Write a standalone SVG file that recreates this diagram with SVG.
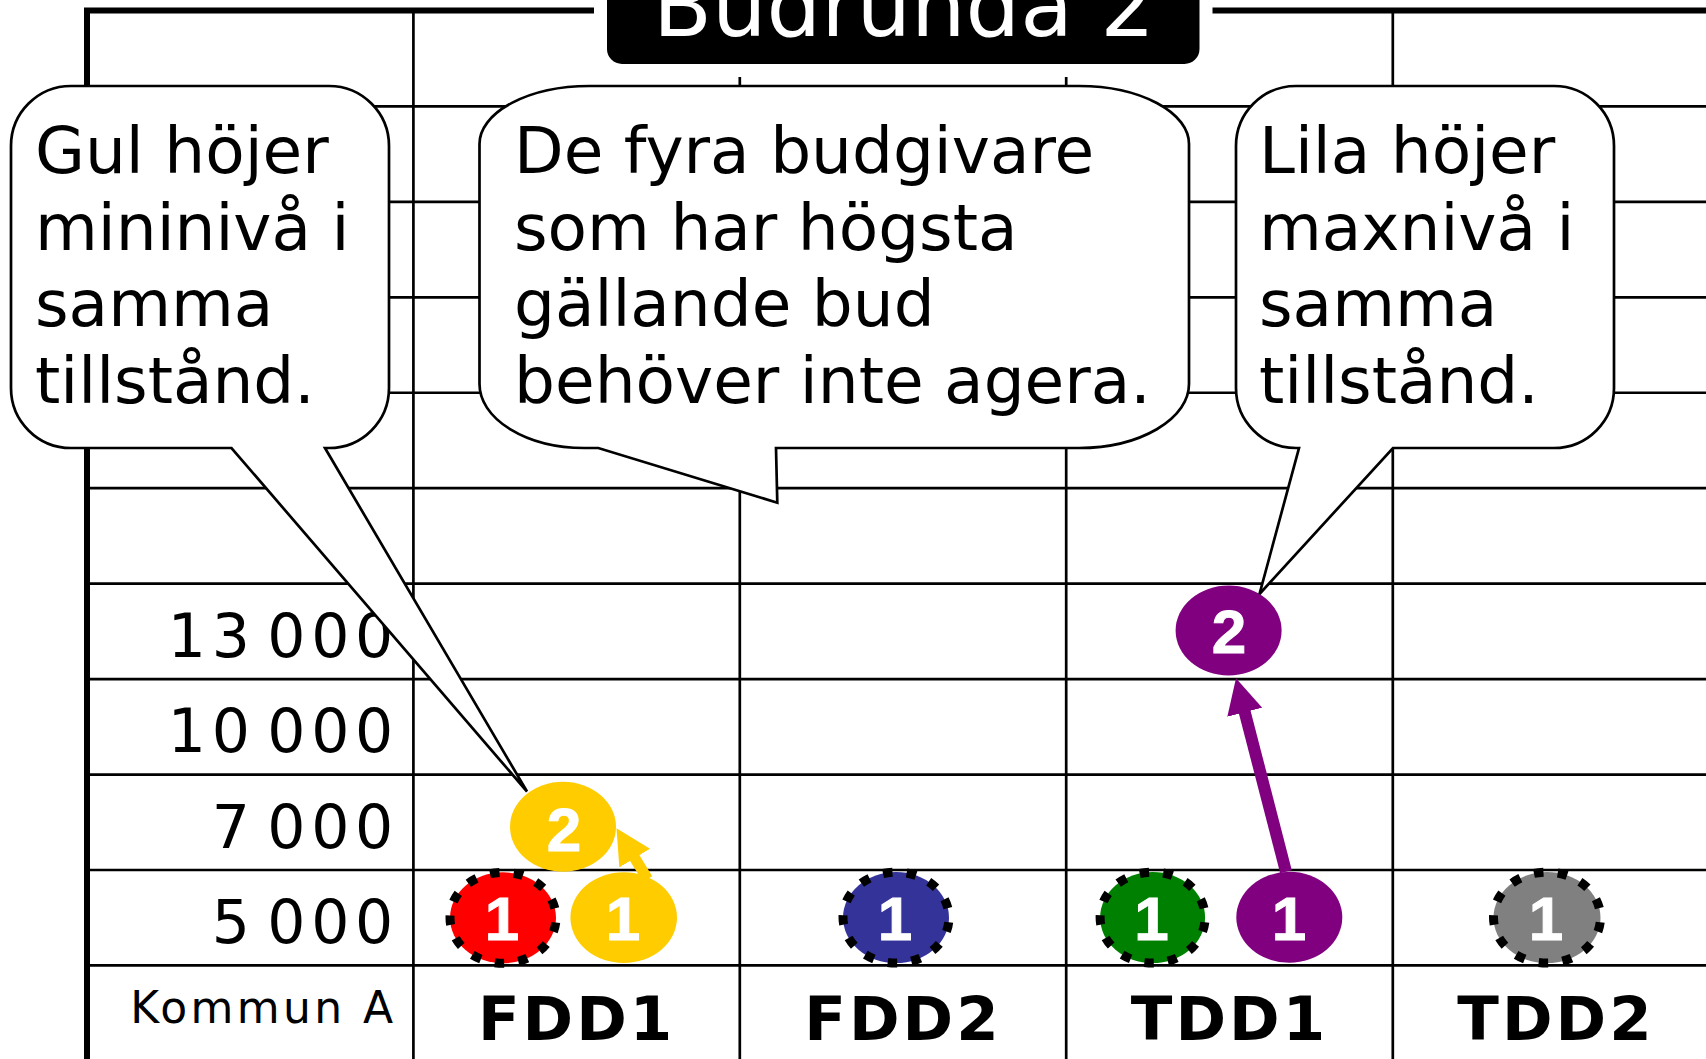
<svg xmlns="http://www.w3.org/2000/svg" width="1706" height="1059" viewBox="0 0 1706 1059">
<style>
.grid{stroke:#000;stroke-width:2.7;fill:none}
.frame{stroke:#000;stroke-width:6;fill:none}
.bubble{fill:#fff;stroke:#000;stroke-width:2.7;stroke-linejoin:miter}
.btxt{font-family:"DejaVu Sans",Verdana,sans-serif;font-size:64.5px;fill:#000}
.num{font-family:"DejaVu Sans",Verdana,sans-serif;font-size:60px;fill:#000;text-anchor:end;letter-spacing:5.7px;word-spacing:-13px}
.kom{font-family:"DejaVu Sans",Verdana,sans-serif;font-size:44px;fill:#000;text-anchor:end;letter-spacing:3.4px}
.col{font-family:"DejaVu Sans",Verdana,sans-serif;font-size:61px;font-weight:bold;fill:#000;text-anchor:middle;letter-spacing:3px}
.cnum{font-family:"Liberation Sans",Arial,sans-serif;font-size:62px;font-weight:bold;fill:#fff;stroke:#fff;stroke-width:1;text-anchor:middle}
.dash{stroke:#000;stroke-width:9;stroke-dasharray:4 6;stroke-dashoffset:-2}
.title{font-family:"DejaVu Sans",Verdana,sans-serif;font-size:86px;fill:#fff;text-anchor:middle}
</style>
<defs>
<marker id="ahY" markerUnits="userSpaceOnUse" viewBox="0 0 35 36" markerWidth="35" markerHeight="36" refX="1" refY="18" orient="auto">
<path d="M0,0 L35,18 L0,36 Z" fill="#FFCC00"/>
</marker>
<marker id="ahP" markerUnits="userSpaceOnUse" viewBox="0 0 35 36" markerWidth="35" markerHeight="36" refX="1" refY="18" orient="auto">
<path d="M0,0 L35,18 L0,36 Z" fill="#800080"/>
</marker>
</defs>
<rect width="1706" height="1059" fill="#fff"/>

<g id="grid">
<g class="grid">
<line x1="87" y1="106.4" x2="1706" y2="106.4"/>
<line x1="87" y1="201.85" x2="1706" y2="201.85"/>
<line x1="87" y1="297.3" x2="1706" y2="297.3"/>
<line x1="87" y1="392.75" x2="1706" y2="392.75"/>
<line x1="87" y1="488.2" x2="1706" y2="488.2"/>
<line x1="87" y1="583.65" x2="1706" y2="583.65"/>
<line x1="87" y1="679.1" x2="1706" y2="679.1"/>
<line x1="87" y1="774.55" x2="1706" y2="774.55"/>
<line x1="87" y1="870" x2="1706" y2="870"/>
<line x1="87" y1="965.45" x2="1706" y2="965.45"/>
<line x1="413.4" y1="11" x2="413.4" y2="1059"/>
<line x1="739.8" y1="11" x2="739.8" y2="1059"/>
<line x1="1066.2" y1="11" x2="1066.2" y2="1059"/>
<line x1="1392.8" y1="11" x2="1392.8" y2="1059"/>
</g>
<path class="frame" d="M87,1059 V10.5 H1706"/>
</g>

<g id="labels">
<text class="num" x="399" y="656.7">13 000</text>
<text class="num" x="399" y="752.2">10 000</text>
<text class="num" x="399" y="847.6">7 000</text>
<text class="num" x="399" y="943">5 000</text>
<text class="kom" x="396.5" y="1023.3">Kommun A</text>
<text class="col" x="576.6" y="1040">FDD1</text>
<text class="col" x="903" y="1040">FDD2</text>
<text class="col" x="1229.5" y="1040">TDD1</text>
<text class="col" x="1556" y="1040">TDD2</text>
</g>

<g id="title">
<rect x="607" y="-40" width="592.5" height="104" rx="15" ry="15" fill="#000" stroke="#fff" stroke-width="26" paint-order="stroke"/>
<text class="title" x="904" y="36">Budrunda 2</text>
</g>

<g id="bid-red">
<ellipse cx="503" cy="917.8" rx="53" ry="45.5" fill="#FF0000"/>
<ellipse class="dash" cx="503" cy="917.8" rx="53" ry="45.5" fill="none" pathLength="130"/>
<text class="cnum" x="502" y="939.5">1</text>
</g>
<g id="bid-yellow-1">
<ellipse cx="623.7" cy="917.6" rx="53.3" ry="45.3" fill="#FFCC00"/>
<text class="cnum" x="623" y="939.5">1</text>
</g>
<g id="bid-yellow-2">
<ellipse cx="563" cy="826.7" rx="53" ry="45" fill="#FFCC00"/>
<text class="cnum" x="564" y="850.5">2</text>
</g>
<g id="bid-blue">
<ellipse cx="896" cy="917.6" rx="53" ry="45.5" fill="#333399"/>
<ellipse class="dash" cx="896" cy="917.6" rx="53" ry="45.5" fill="none" pathLength="130"/>
<text class="cnum" x="895" y="939.5">1</text>
</g>
<g id="bid-green">
<ellipse cx="1152.6" cy="917.6" rx="52.5" ry="45.5" fill="#008000"/>
<ellipse class="dash" cx="1152.6" cy="917.6" rx="52.5" ry="45.5" fill="none" pathLength="130"/>
<text class="cnum" x="1151.6" y="939.5">1</text>
</g>
<g id="bid-purple-1">
<ellipse cx="1289.3" cy="917.3" rx="53" ry="45.5" fill="#800080"/>
<text class="cnum" x="1289" y="939.5">1</text>
</g>
<g id="bid-purple-2">
<ellipse cx="1228.6" cy="630.5" rx="53" ry="45" fill="#800080"/>
<text class="cnum" x="1229" y="652.5">2</text>
</g>
<g id="bid-gray">
<ellipse cx="1547" cy="917.6" rx="53.5" ry="45.5" fill="#808080"/>
<ellipse class="dash" cx="1547" cy="917.6" rx="53.5" ry="45.5" fill="none" pathLength="130"/>
<text class="cnum" x="1546" y="939.5">1</text>
</g>

<g id="connectors">
<line x1="647.5" y1="879" x2="634.2" y2="857.2" stroke="#FFCC00" stroke-width="11" marker-end="url(#ahY)"/>
<line x1="1286" y1="871.7" x2="1244.5" y2="711.2" stroke="#800080" stroke-width="12" marker-end="url(#ahP)"/>
</g>

<g id="bubble-left">
<path class="bubble" d="M71,86 H329 A60,60 0 0 1 389,146 V388 A60,60 0 0 1 329,448 H325 L527,791.5 L231.5,448 H71 A60,60 0 0 1 11,388 V146 A60,60 0 0 1 71,86 Z"/>
<text class="btxt" x="35" y="173.3">Gul höjer</text>
<text class="btxt" x="35" y="249.8">mininivå i</text>
<text class="btxt" x="35" y="326.3">samma</text>
<text class="btxt" x="35" y="402.8">tillstånd.</text>
</g>

<g id="bubble-middle">
<path class="bubble" d="M590,86 H1079 A110,58 0 0 1 1189,144 V384 A110,64 0 0 1 1079,448 H776 L777.3,502.7 L598.3,448 H585 A105,64 0 0 1 479.5,384 V144 A110,58 0 0 1 590,86 Z"/>
<text class="btxt" x="514" y="173.3">De fyra budgivare</text>
<text class="btxt" x="514" y="249.8">som har högsta</text>
<text class="btxt" x="514" y="326.3">gällande bud</text>
<text class="btxt" x="514" y="402.8">behöver inte agera.</text>
</g>

<g id="bubble-right">
<path class="bubble" d="M1296,86 H1554 A60,60 0 0 1 1614,146 V388 A60,60 0 0 1 1554,448 H1393 L1259.5,594 L1299,448 H1296 A60,60 0 0 1 1236,388 V146 A60,60 0 0 1 1296,86 Z"/>
<text class="btxt" x="1259" y="173.3">Lila höjer</text>
<text class="btxt" x="1259" y="249.8">maxnivå i</text>
<text class="btxt" x="1259" y="326.3">samma</text>
<text class="btxt" x="1259" y="402.8">tillstånd.</text>
</g>
</svg>
